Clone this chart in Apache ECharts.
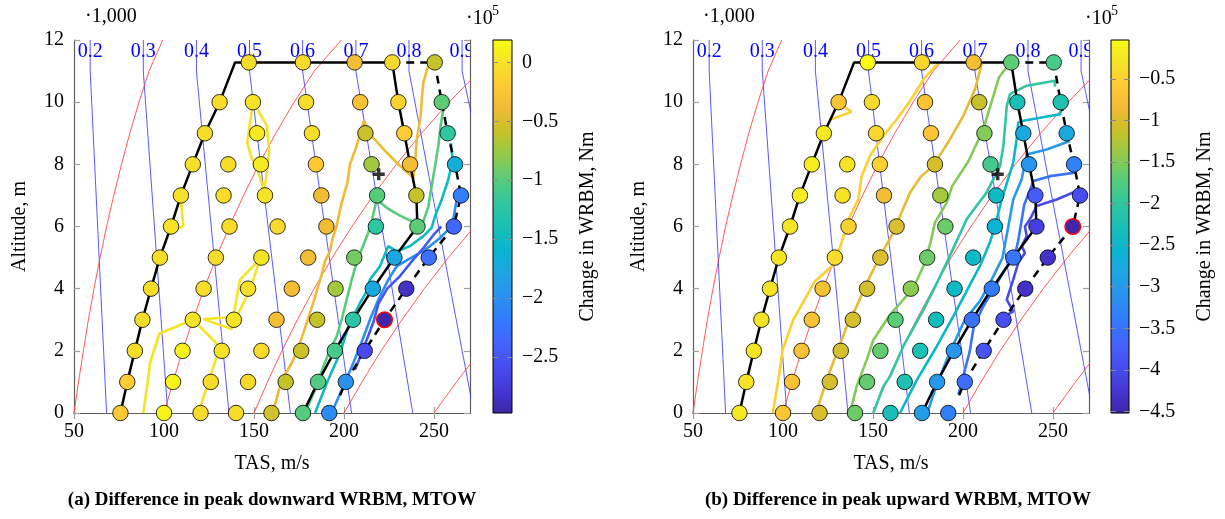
<!DOCTYPE html>
<html>
<head>
<meta charset="utf-8">
<script src="https://cdn.jsdelivr.net/npm/echarts@6/dist/echarts.min.js"></script>
<style>
html, body { margin: 0; padding: 0; background: #fff; }
#chart { width: 1225px; height: 519px; }
</style>
</head>
<body>
<div id="chart"></div>
<script>
// ---------- test grid: altitude rows (km) and true airspeeds (m/s) ----------
const altitudes = [0, 1, 2, 3, 4, 5, 6, 7, 8, 9, 10, 11.28];
const tasGrid = [
  [75.8, 100, 120.3, 140, 159.7, 177.2, 191.8],
  [79.6, 105, 126, 146.7, 167.6, 185.6, 201],
  [83.8, 110.3, 132.1, 154.1, 176.2, 194.9, 211.5],
  [88, 116, 138.8, 162.5, 185.1, 205, 222.5],
  [92.8, 122, 146.7, 171, 195.3, 216, 234.6],
  [97.7, 128.8, 154.1, 180.1, 205.7, 228, 247.1],
  [103.9, 136.4, 163.1, 190.2, 217.7, 240.8, 261],
  [109.4, 133.1, 156.1, 187.4, 218.4, 240.2, 265],
  [116, 135.7, 153.8, 184.4, 215.3, 236.7, 261.7],
  [122.7, 151.7, 182.2, 211.9, 233.5, 257.6],
  [130.9, 149.4, 178.9, 209, 230.2, 254.3],
  [147.1, 177.2, 205.9, 226.8, 250.4]
];

// change in peak downward WRBM (x 1e5 Nm)
const downwardDelta = [
  [-0.22, 0.13, -0.06, -0.06, -0.54, -1.01, -2.03],
  [-0.19, 0.13, -0.06, -0.09, -0.6, -1.03, -1.99],
  [-0.06, 0.1, -0.02, -0.06, -0.57, -1.08, -2.6],
  [-0.06, 0.0, 0.0, -0.35, -0.6, -1.23, -2.975],
  [-0.06, -0.05, -0.02, -0.35, -0.73, -1.74, -2.85],
  [-0.06, -0.05, 0.0, -0.35, -0.89, -1.75, -2.28],
  [-0.02, -0.05, -0.08, -0.38, -1.2, -0.98, -2.34],
  [-0.02, -0.06, 0.0, -0.36, -1.0, -0.6, -2.15],
  [-0.04, -0.05, 0.05, -0.22, -0.73, -0.38, -1.68],
  [-0.05, 0.05, -0.06, -0.57, -0.19, -1.2],
  [-0.05, 0.0, -0.06, -0.28, -0.13, -0.98],
  [-0.05, -0.07, -0.35, -0.1, -0.6]
];

// change in peak upward WRBM (x 1e5 Nm)
const upwardDelta = [
  [-0.25, -0.66, -1.02, -1.6, -2.27, -2.95, -3.34],
  [-0.3, -0.7, -1.05, -1.65, -2.22, -3.0, -3.56],
  [-0.3, -0.72, -1.05, -1.65, -2.25, -3.05, -3.87],
  [-0.3, -0.75, -1.05, -1.7, -2.35, -3.5, -3.95],
  [-0.3, -0.75, -1.05, -1.46, -2.44, -3.43, -4.32],
  [-0.3, -0.39, -1.0, -1.6, -2.44, -3.45, -4.32],
  [-0.28, -0.5, -1.0, -1.6, -2.58, -4.14, -4.5],
  [-0.2, -0.3, -0.79, -1.33, -2.45, -3.78, -3.96],
  [-0.2, -0.3, -0.52, -1.06, -1.86, -3.07, -3.29],
  [-0.25, -0.43, -0.66, -1.5, -2.76, -2.76],
  [-0.66, -0.43, -0.66, -1.15, -2.27, -2.18],
  [-0.03, -0.45, -0.79, -1.68, -1.82]
];

// [row, column] of the largest change in each map
const downwardPeak = [3, 6];
const upwardPeak = [6, 6];

// colour-bar ranges (x 1e5 Nm) and tick values
const downwardRange = [-2.975, 0.19];
const upwardRange = [-4.52, -0.03];
const downwardTicks = [0, -0.5, -1, -1.5, -2, -2.5];
const upwardTicks = [-0.5, -1, -1.5, -2, -2.5, -3, -3.5, -4, -4.5];
const tasTicks = [50, 100, 150, 200, 250];

// flight envelope (solid) and extended boundary (dashed), [TAS, altitude]
const envelope = [[75.8, 0], [79.6, 1], [83.8, 2], [88, 3], [92.8, 4], [97.7, 5], [103.9, 6], [109.4, 7],
  [116, 8], [122.7, 9], [130.9, 10], [139.5, 11.28], [226.8, 11.28], [230.2, 10], [233.5, 9], [236.7, 8],
  [240.2, 7], [240.8, 6], [228, 5], [216, 4], [205, 3], [194.9, 2], [185.6, 1], [177.2, 0]];
const extendedEnvelope = [[226.8, 11.28], [250.4, 11.28], [254.3, 10], [257.6, 9], [261.7, 8], [265, 7],
  [261, 6], [247.1, 5], [234.6, 4], [222.5, 3], [211.5, 2], [201, 1], [196.5, 0.4]];
const designPoint = [219.3, 7.68];

// Mach lines: TAS at sea level and at the tropopause (11 km and above)
const machNumbers = [0.2, 0.3, 0.4, 0.5, 0.6, 0.7, 0.8, 0.9];
const machTasSeaLevel = [68.1, 102.1, 136.1, 170.2, 204.2, 238.2, 272.2, 306.3];
const machTasTropopause = [59.0, 88.5, 118.0, 147.5, 177.0, 206.6, 236.1, 265.6];

// equivalent-airspeed lines: TAS at 0, 1, 2, ... km
const easAltitudes = [0, 1, 2, 3, 4, 5, 6, 7, 8, 9, 10, 11, 12];
const eas50 = [50, 52.5, 55.2, 58.0, 61.1, 64.5, 68.1, 72.1, 76.4, 81.0, 86.1, 91.7, 99.3];
const eas100 = [100, 105.0, 110.3, 116.1, 122.3, 129.0, 136.3, 144.2, 152.7, 162.1, 172.3, 183.5, 198.5];
const eas150 = [150, 157.5, 165.5, 174.1, 183.4, 193.5, 204.4, 216.2, 229.1, 243.1, 258.4, 275.2, 297.8];
const eas200 = [200, 210.0, 220.6, 232.2, 244.6, 258.0, 272.5, 288.3];
const eas250 = [250, 262.5, 275.8];

// contour lines of the downward map, [TAS, altitude]
const downYellowLow = [[88.5, 0], [91.2, 1.1], [92.2, 1.6], [97.4, 2.55], [116, 3.0], [131, 2.14], [129.3, 1.82], [119.1, 0]];
const downYellowWedge = [[121.9, 3.02], [138.5, 3.09], [137.6, 2.7], [121.9, 3.02]];
const downYellowMid = [[138.5, 3.09], [142.2, 4.29], [153.3, 4.94], [147.8, 3.97], [139.5, 3.0]];
const downYellowHook = [[109.4, 6.87], [110.7, 6.01], [102.4, 5.77]];
const downYellowHigh = [[149.6, 10.0], [157.2, 9.24], [158.4, 8.4], [156.6, 7.5], [155.6, 7.19], [152.4, 7.73],
  [148.7, 8.2], [146.2, 8.7], [147.8, 9.35], [149.6, 10.0]];
const downGold = [[160.4, 0], [165.4, 1.06], [170.9, 1.6], [173.7, 1.98], [177.4, 2.57], [181.1, 3.22], [182.9, 3.54],
  [184.8, 3.91], [187.6, 4.45], [189.4, 4.88], [192.2, 5.2], [193.7, 5.63], [195.8, 6.0], [198.7, 6.76], [201.9, 7.41],
  [203.3, 8.0], [207.0, 8.59], [211.1, 9.4], [215.4, 8.91], [223.7, 8.38], [231.1, 7.95], [238.5, 7.57], [239.4, 7.95],
  [240.4, 8.81], [242.6, 9.56], [243.2, 10.1], [244.1, 10.64], [246.9, 11.2]];
const downGreen = [[178.3, 0], [183.9, 0.74], [188.5, 1.49], [192.2, 2.03], [195.9, 2.46], [198.7, 3.0], [201.5, 3.65],
  [204.3, 4.29], [207, 4.83], [209.8, 5.26], [213.5, 5.8], [215.5, 6.2], [218.2, 6.87], [223.7, 6.6], [231.1, 6.35],
  [237.6, 6.17], [241.3, 6.06], [244.1, 6.17], [246.9, 6.65], [248.7, 7.3], [250.6, 7.95], [252.4, 8.59], [253.7, 9.24],
  [255.2, 9.77], [255, 10.0]];
const downCyan = [[183.9, 0], [190.4, 0.96], [197.8, 1.93], [202.4, 2.78], [208.9, 3.54], [212.6, 3.91], [214.4, 4.29],
  [220, 4.72], [224.6, 5.37], [229.3, 5.2], [236.7, 5.37], [244.1, 5.69], [248.7, 5.96], [250.6, 6.33], [254.3, 6.87],
  [258, 7.52], [260.4, 8.16], [259.3, 8.68]];
const downBlue = [[193.1, 0], [198.7, 0.74], [204.3, 1.49], [208.9, 2.14], [214.4, 3.0], [219.1, 3.65], [224.6, 4.29],
  [229.3, 4.72], [235.7, 4.94], [242.2, 5.15], [247.8, 5.37], [253.3, 5.63], [258, 5.9], [260.7, 6.23], [262.6, 6.87],
  [264.5, 7.1]];
const downViolet = [[206.1, 1.39], [211, 2.1], [216.5, 2.95], [219, 3.5], [224, 4.0], [231, 4.4], [238, 4.9],
  [244, 5.3], [250, 5.75], [254, 6.0]];
const downContours = [downYellowLow, downYellowWedge, downYellowMid, downYellowHook, downYellowHigh,
  downGold, downGreen, downCyan, downBlue, downViolet];
const downContourLevels = [0, 0, 0, 0, 0, -0.4, -1, -1.5, -2, -2.5];

// contour lines of the upward map, [TAS, altitude]
const upYellow = [[94.3, 0], [97.4, 1.06], [99.8, 2.03], [105.7, 3.0], [117.8, 4.24], [127.1, 4.72], [130.7, 5.15],
  [137.2, 6.33], [141.8, 6.87], [143.7, 7.62], [148.3, 8.27], [155.7, 8.91], [163.2, 9.45], [170.6, 10.04],
  [178.9, 10.8], [186.3, 11.26]];
const upYellowHook = [[131.5, 9.95], [138.1, 9.69], [126.1, 9.43]];
const upGold = [[118.3, 0], [124.3, 1.06], [129.8, 1.92], [135.4, 2.78], [140.9, 3.43], [146.5, 4.18], [153.9, 5.04],
  [161.3, 5.8], [165.5, 6.4], [170.6, 7.09], [176.5, 7.6], [183.5, 7.95], [192.8, 8.81], [200.2, 9.56], [206.7, 10.42],
  [210.4, 11.23]];
const upGreen = [[137.2, 0], [140.9, 0.85], [146.5, 1.71], [150.2, 2.35], [159.4, 3.16], [172.4, 4.02], [178, 4.72],
  [182, 5.5], [184.4, 6.12], [190.9, 6.76], [194, 7.3], [203, 8.1], [211.3, 9.13], [216.9, 10.2], [220, 10.8],
  [225.5, 11.22]];
const upTeal = [[150.2, 0], [155.7, 0.85], [159.4, 1.17], [166.8, 2.14], [178, 3.32], [184, 4.0], [190.9, 4.83],
  [197, 5.6], [202, 6.23], [208, 6.7], [213.1, 7.09], [220.6, 7.95], [222.4, 8.59], [223.5, 9.3], [224.3, 9.88],
  [226.1, 10.26], [235.4, 10.53], [251.1, 10.69], [251.1, 10.5]];
const upCyan = [[165, 0], [174.3, 1.06], [185.4, 2.14], [194.6, 3.11], [203.9, 4.13], [210, 4.8], [215, 5.5],
  [217.8, 6.01], [221.5, 6.87], [227.9, 8.05], [229.8, 8.81], [230.7, 9.35], [233.5, 9.4], [253.9, 9.61], [254.8, 9.83]];
const upBlue = [[180.7, 0.1], [186, 1.0], [193, 2.0], [201, 3.0], [209.4, 3.6], [216, 4.3], [222, 5.0], [225.2, 6.01],
  [227.9, 6.87], [232.6, 7.52], [235.4, 8.32], [246.5, 8.48], [259.4, 8.75]];
const upIndigo = [[197.5, 0.6], [199.3, 1.0], [203.8, 2.0], [206, 2.8], [211, 3.4], [217.2, 4.0], [223, 4.6],
  [228.6, 5.0], [230.5, 5.5], [232, 6.0], [234, 6.7], [239.1, 7.46], [248.3, 7.62], [262.2, 7.73]];
const upViolet = [[221.5, 3.05], [227.9, 3.27], [224.3, 3.65], [227.9, 4.29], [230.7, 4.83], [234.4, 5.15],
  [232.6, 5.37], [235.4, 5.69], [234.4, 6.0], [237.2, 6.23], [240.9, 6.66], [252, 6.87], [263.1, 7.14]];
const upContours = [upYellow, upYellowHook, upGold, upGreen, upTeal, upCyan, upBlue, upIndigo, upViolet];
const upContourLevels = [-0.5, -0.5, -0.92, -1.5, -2, -2.5, -3, -3.5, -4];

// ---------- styling ----------
const FONT = 'Liberation Serif';
const MACH_LABEL_ALT = 11.62;
const parula = ['#3e26a8', '#4537d5', '#474df0', '#4563fd', '#327bfc', '#2b91ef', '#20a5e3', '#08b5d0',
  '#19bfb6', '#31c6a0', '#57cc7a', '#8fcb4e', '#c5c22a', '#efba36', '#fec934', '#f5e327', '#f9fb15'];

function hexRgb(h) {
  return [parseInt(h.slice(1, 3), 16), parseInt(h.slice(3, 5), 16), parseInt(h.slice(5, 7), 16)];
}
function colormap(t) {
  t = Math.max(0, Math.min(1, t));
  const n = parula.length - 1;
  const f = t * n;
  const i = Math.min(n - 1, Math.floor(f));
  const u = f - i;
  const a = hexRgb(parula[i]), b = hexRgb(parula[i + 1]);
  return 'rgb(' + a.map((v, k) => Math.round(v + (b[k] - v) * u)).join(',') + ')';
}
function minusLabel(v) {
  return v === 0 ? '0' : (v < 0 ? '\u2212' : '') + String(Math.abs(v));
}

const frameLine = { show: true, lineStyle: { color: '#5f5f5f', width: 1.2 } };
const innerTick = { show: true, inside: true, length: 6, lineStyle: { color: '#a0a0a0', width: 1.2 } };
const tickFont = { color: '#000', fontFamily: FONT, fontSize: 20 };

const panels = [
  { values: downwardDelta, peak: downwardPeak, contours: downContours, levels: downContourLevels,
    range: downwardRange, ticks: downwardTicks, left: 74, barLeft: 493, barWidth: 19 },
  { values: upwardDelta, peak: upwardPeak, contours: upContours, levels: upContourLevels,
    range: upwardRange, ticks: upwardTicks, left: 693, barLeft: 1111, barWidth: 18 }
];

const grids = [];
const xAxes = [];
const yAxes = [];
const series = [];
const visualMaps = [];

panels.forEach((pn, p) => {
  const g = grids.length;
  grids.push({ left: pn.left, top: 40, width: 396, height: 373 });
  const xb = xAxes.length;
  xAxes.push({
    gridIndex: g, type: 'value', position: 'bottom', min: 50, max: 270,
    axisLine: frameLine, splitLine: { show: false },
    axisTick: Object.assign({ customValues: tasTicks }, innerTick),
    axisLabel: Object.assign({ margin: 9, customValues: tasTicks }, tickFont),
    name: 'TAS, m/s', nameLocation: 'middle', nameGap: 41,
    nameTextStyle: { color: '#000', fontFamily: FONT, fontSize: 20 }
  });
  xAxes.push({
    gridIndex: g, type: 'value', position: 'top', min: 50, max: 270,
    axisLine: frameLine, splitLine: { show: false }, axisLabel: { show: false },
    axisTick: Object.assign({ customValues: tasTicks }, innerTick)
  });
  const yl = yAxes.length;
  yAxes.push({
    gridIndex: g, type: 'value', position: 'left', min: 0, max: 12, interval: 2,
    axisLine: frameLine, axisTick: innerTick, splitLine: { show: false },
    axisLabel: Object.assign({ margin: 10 }, tickFont),
    name: 'Altitude, m', nameLocation: 'middle', nameGap: 44, nameRotate: 90,
    nameTextStyle: { color: '#000', fontFamily: FONT, fontSize: 20 }
  });
  yAxes.push({
    gridIndex: g, type: 'value', position: 'right', min: 0, max: 12, interval: 2,
    axisLine: frameLine, axisTick: innerTick, splitLine: { show: false }, axisLabel: { show: false }
  });

  const ax = { xAxisIndex: xb, yAxisIndex: yl };
  const base = Object.assign({ silent: true, animation: false }, ax);

  // Mach number labels (clipped to the plot)
  series.push(Object.assign({
    type: 'custom', clip: true, z: 1,
    data: machNumbers.map((m, i) => [machTasTropopause[i], m]),
    renderItem: (params, api) => {
      const pt = api.coord([api.value(0), MACH_LABEL_ALT]);
      return {
        type: 'text', x: pt[0], y: pt[1],
        style: { text: api.value(1).toFixed(1), fill: '#0000ff', fontFamily: FONT, fontSize: 20,
          align: 'center', verticalAlign: 'middle' }
      };
    }
  }, base));

  // Mach lines
  machNumbers.forEach((m, i) => {
    series.push(Object.assign({
      type: 'line', showSymbol: false, symbol: 'none', z: 2,
      lineStyle: { color: '#3030ff', width: 0.8 },
      data: [[machTasSeaLevel[i], 0], [machTasTropopause[i], 11], [machTasTropopause[i], 12]]
    }, base));
  });

  // equivalent-airspeed lines
  [eas50, eas100, eas150, eas200, eas250].forEach(line => {
    series.push(Object.assign({
      type: 'line', showSymbol: false, symbol: 'none', z: 2,
      lineStyle: { color: '#ff3030', width: 0.8 },
      data: line.map((v, i) => [v, easAltitudes[i]])
    }, base));
  });

  // contour lines
  const span = pn.range[1] - pn.range[0];
  pn.contours.forEach((path, k) => {
    series.push(Object.assign({
      type: 'line', showSymbol: false, symbol: 'none', z: 3,
      lineStyle: { color: colormap((pn.levels[k] - pn.range[0]) / span), width: 2.6 },
      data: path
    }, base));
  });

  // envelope
  series.push(Object.assign({
    type: 'line', showSymbol: false, symbol: 'none', z: 4,
    lineStyle: { color: '#000', width: 2.5 }, data: envelope
  }, base));
  series.push(Object.assign({
    type: 'line', showSymbol: false, symbol: 'none', z: 4,
    lineStyle: { color: '#000', width: 2.5, type: [8, 6] }, data: extendedEnvelope
  }, base));

  // test points
  const pts = [];
  tasGrid.forEach((row, r) => {
    row.forEach((tas, c) => {
      const item = { value: [tas, altitudes[r], pn.values[r][c]] };
      if (r === pn.peak[0] && c === pn.peak[1]) {
        item.itemStyle = { borderColor: '#ff0000', borderWidth: 1.6 };
      }
      pts.push(item);
    });
  });
  const scatterIndex = series.length;
  series.push(Object.assign({
    type: 'scatter', clip: false, z: 5, symbol: 'circle', symbolSize: 15.5,
    itemStyle: { borderColor: '#000', borderWidth: 0.8, opacity: 1 },
    data: pts
  }, base));
  visualMaps.push({
    type: 'continuous', show: false, seriesIndex: scatterIndex, dimension: 2,
    min: pn.range[0], max: pn.range[1], inRange: { color: parula }
  });

  // design point
  series.push(Object.assign({
    type: 'scatter', z: 6, symbol: 'path://M3.6,0H6.4V3.6H10V6.4H6.4V10H3.6V6.4H0V3.6H3.6Z', symbolSize: 12,
    itemStyle: { color: '#000' }, data: [designPoint]
  }, base));

  // colour bar
  const gb = grids.length;
  grids.push({ left: pn.barLeft, top: 40, width: pn.barWidth, height: 373 });
  const xc = xAxes.length;
  xAxes.push({ gridIndex: gb, type: 'value', min: 0, max: 1, show: false });
  const yc = yAxes.length;
  yAxes.push({
    gridIndex: gb, type: 'value', position: 'left', min: pn.range[0], max: pn.range[1], z: 10,
    axisLine: { show: false }, splitLine: { show: false }, axisLabel: { show: false },
    axisTick: { show: true, inside: true, length: 5, customValues: pn.ticks, lineStyle: { color: '#8a8a8a', width: 1 } }
  });
  yAxes.push({
    gridIndex: gb, type: 'value', position: 'right', min: pn.range[0], max: pn.range[1], z: 10,
    axisLine: { show: false }, splitLine: { show: false },
    axisTick: { show: true, inside: true, length: 5, customValues: pn.ticks, lineStyle: { color: '#8a8a8a', width: 1 } },
    axisLabel: Object.assign({ margin: 10, customValues: pn.ticks, formatter: minusLabel }, tickFont),
    name: 'Change in WRBM, Nm', nameLocation: 'middle', nameGap: 66, nameRotate: 90,
    nameTextStyle: { color: '#000', fontFamily: FONT, fontSize: 20 }
  });
  const rng = pn.range;
  series.push({
    type: 'custom', xAxisIndex: xc, yAxisIndex: yc, silent: true, animation: false, z: 2,
    data: [[0, rng[0]]],
    renderItem: (params, api) => {
      const a = api.coord([0, rng[1]]);
      const b = api.coord([1, rng[0]]);
      return {
        type: 'rect',
        shape: { x: a[0], y: a[1], width: b[0] - a[0], height: b[1] - a[1] },
        style: {
          fill: new echarts.graphic.LinearGradient(0, 1, 0, 0,
            parula.map((c, i) => ({ offset: i / (parula.length - 1), color: c }))),
          stroke: '#000', lineWidth: 1
        }
      };
    }
  });
});

const textStyle = (size, weight) => ({ fill: '#000', fontFamily: FONT, fontSize: size, fontWeight: weight || 'normal' });

const chart = echarts.init(document.getElementById('chart'), null, { renderer: 'canvas' });
chart.setOption({
  animation: false,
  backgroundColor: '#fff',
  grid: grids,
  xAxis: xAxes,
  yAxis: yAxes,
  visualMap: visualMaps,
  series: series,
  graphic: [
    { type: 'text', left: 85, top: 7, style: Object.assign({ text: '\u00b71,000' }, textStyle(20)) },
    { type: 'text', left: 703, top: 7, style: Object.assign({ text: '\u00b71,000' }, textStyle(20)) },
    { type: 'text', left: 466, top: 9, style: Object.assign({ text: '\u00b710' }, textStyle(20)) },
    { type: 'text', left: 492, top: 4, style: Object.assign({ text: '5' }, textStyle(14)) },
    { type: 'text', left: 1085, top: 9, style: Object.assign({ text: '\u00b710' }, textStyle(20)) },
    { type: 'text', left: 1111, top: 4, style: Object.assign({ text: '5' }, textStyle(14)) },
    { type: 'text', x: 272, y: 500, style: Object.assign({ text: '(a) Difference in peak downward WRBM, MTOW',
        align: 'center', verticalAlign: 'middle' }, textStyle(19, 'bold')) },
    { type: 'text', x: 898, y: 500, style: Object.assign({ text: '(b) Difference in peak upward WRBM, MTOW',
        align: 'center', verticalAlign: 'middle' }, textStyle(19, 'bold')) }
  ]
});
</script>
</body>
</html>
